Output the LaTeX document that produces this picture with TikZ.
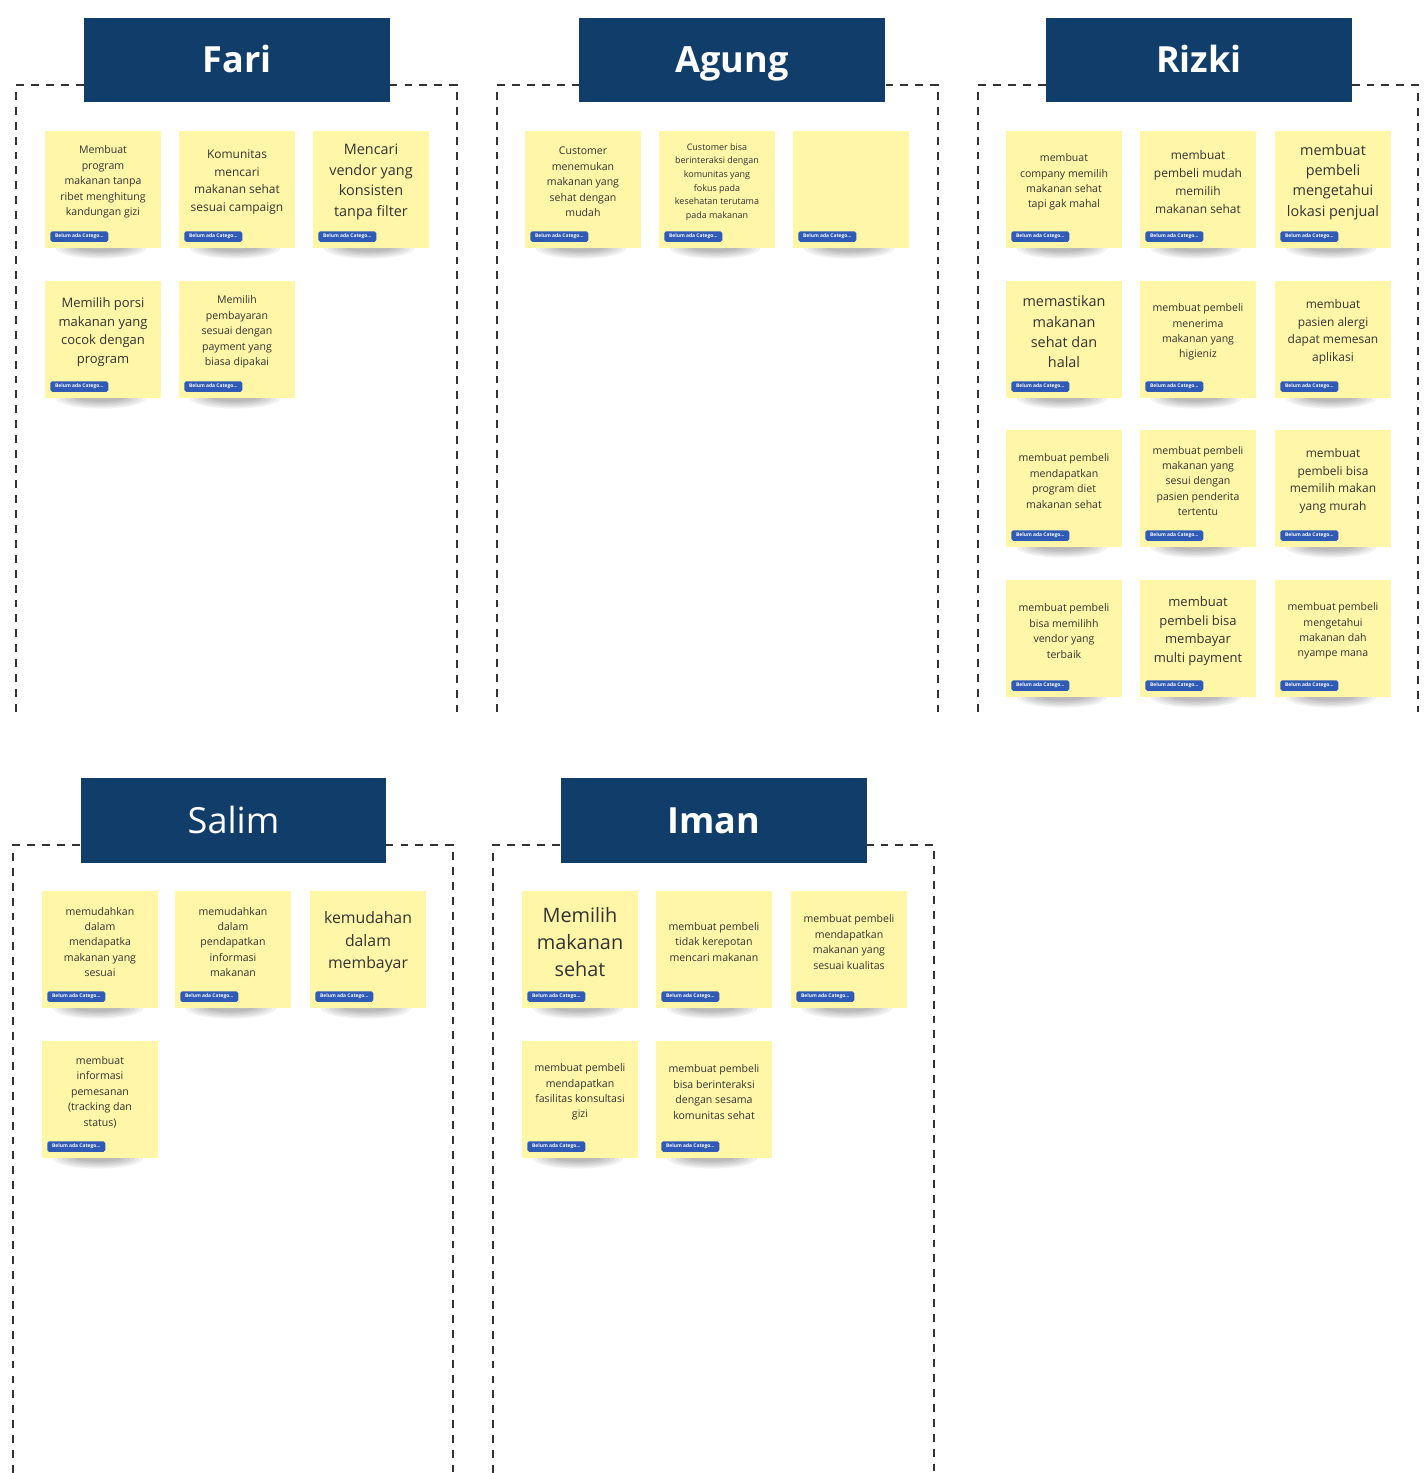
\documentclass[tikz,border=0pt]{standalone}
\usepackage{fontspec}
\setmainfont{Open Sans}
\usepackage{tikz}
\usepackage{xcolor}
\definecolor{navy}{RGB}{17,61,106}
\definecolor{stickyyellow}{RGB}{255,246,168}
\definecolor{tagblue}{RGB}{47,90,182}

\newcommand{\sticky}[5]{%
    \foreach \k in {1,...,6}
        \fill[black,opacity=.05] (#2+56,#3+117) ellipse ({1.0cm-\k*0.09cm} and {0.24cm-\k*0.028cm});
    \node[note] (#1) at (#2,#3) {};
    \node[notetext,#4] (#1txt) at (#2+58,#3+51) {#5};
    \node[tagbox] (#1tag) at (#2+5,#3+100) {Belum ada Catego...};
}

\begin{document}
\begin{tikzpicture}[x=0.02cm,y=-0.02cm]
    \tikzstyle{frame}=[draw=black!80,line width=1.1pt,dash pattern=on 4.5pt off 4pt]
    \tikzstyle{header}=[fill=navy,text=white,minimum width=6.12cm,minimum height=1.7cm,inner sep=0,text height=14.6pt,text depth=0pt,font=\fontsize{20.5}{25}\selectfont]
    \tikzstyle{note}=[fill=stickyyellow,anchor=north west,minimum width=2.32cm,minimum height=2.34cm,inner sep=0]
    \tikzstyle{notetext}=[text=black!80,align=center,inner sep=0]
    \tikzstyle{txtxs}=[font=\fontsize{5.1}{7.8}\selectfont]
    \tikzstyle{txts}=[font=\fontsize{6}{8.8}\selectfont]
    \tikzstyle{txtm}=[font=\fontsize{6.8}{10.1}\selectfont]
    \tikzstyle{txtmm}=[font=\fontsize{7.4}{10.6}\selectfont]
    \tikzstyle{txtl}=[font=\fontsize{8.2}{11.6}\selectfont]
    \tikzstyle{txtll}=[font=\fontsize{9}{12.8}\selectfont]
    \tikzstyle{txtxl}=[font=\fontsize{11.3}{15.3}\selectfont]
    \tikzstyle{tagbox}=[fill=tagblue,text=white,anchor=north west,rounded corners=1pt,minimum width=1.16cm,minimum height=0.21cm,inner sep=0,font=\fontsize{2.8}{3}\selectfont\bfseries]
    \useasboundingbox (0,0) rectangle (1424,1473);
    \draw[frame] (16,712) -- (16,85) -- (457,85) -- (457,712);
    \draw[frame] (497,712) -- (497,85) -- (938,85) -- (938,712);
    \draw[frame] (978,712) -- (978,85) -- (1418,85) -- (1418,712);
    \draw[frame] (13,1473) -- (13,845) -- (453,845) -- (453,1473);
    \draw[frame] (493,1473) -- (493,845) -- (934,845) -- (934,1473);
    \node[header] (fari) at (237,60) {\bfseries Fari};
    \node[header] (agung) at (732,60) {\bfseries Agung};
    \node[header] (rizki) at (1199,60) {\bfseries Rizki};
    \node[header] (salim) at (233.5,820.5) {Salim};
    \node[header] (iman) at (714,820.5) {\bfseries Iman};
    \sticky{f1}{45}{131}{txts}{Membuat\\program\\makanan tanpa\\ribet menghitung\\kandungan gizi}
    \sticky{f2}{179}{131}{txtm}{Komunitas\\mencari\\makanan sehat\\sesuai campaign}
    \sticky{f3}{313}{131}{txtl}{Mencari\\vendor yang\\konsisten\\tanpa filter}
    \sticky{f4}{45}{281}{txtmm}{Memilih porsi\\makanan yang\\cocok dengan\\program}
    \sticky{f5}{179}{281}{txts}{Memilih\\pembayaran\\sesuai dengan\\payment yang\\biasa dipakai}
    \sticky{a1}{525}{131}{txts}{Customer\\menemukan\\makanan yang\\sehat dengan\\mudah}
    \sticky{a2}{659}{131}{txtxs}{Customer bisa\\berinteraksi dengan\\komunitas yang\\fokus pada\\kesehatan terutama\\pada makanan}
    \sticky{a3}{793}{131}{txts}{}
    \sticky{r1}{1006}{131}{txts}{membuat\\company memilih\\makanan sehat\\tapi gak mahal}
    \sticky{r2}{1140}{131}{txtm}{membuat\\pembeli mudah\\memilih\\makanan sehat}
    \sticky{r3}{1275}{131}{txtl}{membuat\\pembeli\\mengetahui\\lokasi penjual}
    \sticky{r4}{1006}{281}{txtl}{memastikan\\makanan\\sehat dan\\halal}
    \sticky{r5}{1140}{281}{txts}{membuat pembeli\\menerima\\makanan yang\\higieniz}
    \sticky{r6}{1275}{281}{txtm}{membuat\\pasien alergi\\dapat memesan\\aplikasi}
    \sticky{r7}{1006}{430}{txts}{membuat pembeli\\mendapatkan\\program diet\\makanan sehat}
    \sticky{r8}{1140}{430}{txts}{membuat pembeli\\makanan yang\\sesui dengan\\pasien penderita\\tertentu}
    \sticky{r9}{1275}{430}{txtm}{membuat\\pembeli bisa\\memilih makan\\yang murah}
    \sticky{r10}{1006}{580}{txts}{membuat pembeli\\bisa memilihh\\vendor yang\\terbaik}
    \sticky{r11}{1140}{580}{txtmm}{membuat\\pembeli bisa\\membayar\\multi payment}
    \sticky{r12}{1275}{580}{txts}{membuat pembeli\\mengetahui\\makanan dah\\nyampe mana}
    \sticky{s1}{42}{891}{txts}{memudahkan\\dalam\\mendapatka\\makanan yang\\sesuai}
    \sticky{s2}{175}{891}{txts}{memudahkan\\dalam\\pendapatkan\\informasi\\makanan}
    \sticky{s3}{310}{891}{txtll}{kemudahan\\dalam\\membayar}
    \sticky{s4}{42}{1041}{txts}{membuat\\informasi\\pemesanan\\(tracking dan\\status)}
    \sticky{i1}{522}{891}{txtxl}{Memilih\\makanan\\sehat}
    \sticky{i2}{656}{891}{txts}{membuat pembeli\\tidak kerepotan\\mencari makanan}
    \sticky{i3}{791}{891}{txts}{membuat pembeli\\mendapatkan\\makanan yang\\sesuai kualitas}
    \sticky{i4}{522}{1041}{txts}{membuat pembeli\\mendapatkan\\fasilitas konsultasi\\gizi}
    \sticky{i5}{656}{1041}{txts}{membuat pembeli\\bisa berinteraksi\\dengan sesama\\komunitas sehat}
\end{tikzpicture}
\end{document}
